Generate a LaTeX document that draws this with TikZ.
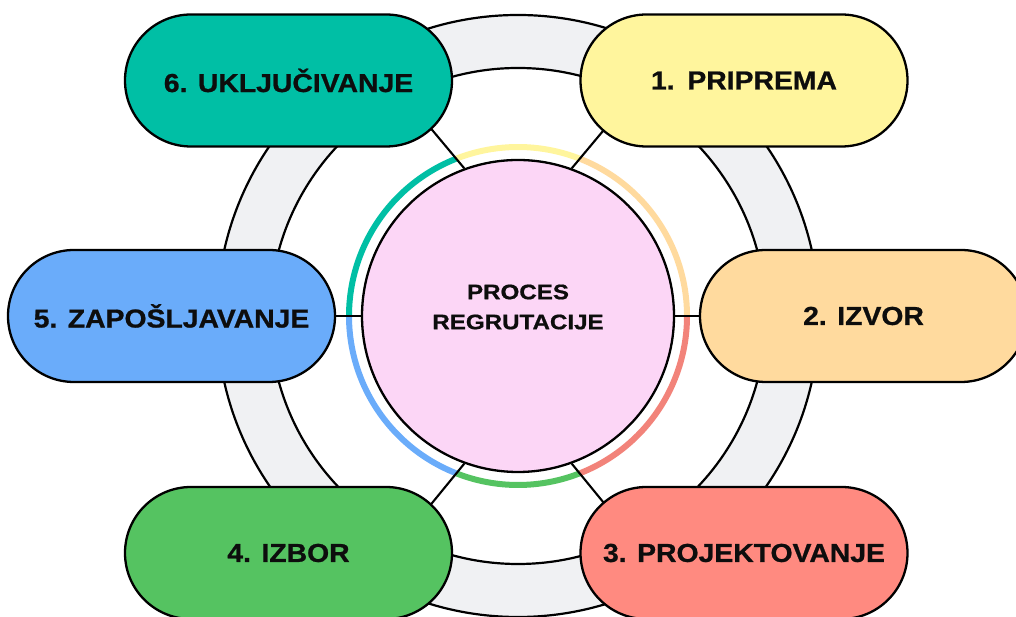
\documentclass[tikz,border=0pt]{standalone}
\usepackage{fontspec}
\setmainfont{Liberation Sans}[BoldFeatures={FakeBold=0.8}]
\usetikzlibrary{shapes.misc,backgrounds}
\definecolor{cteal}{HTML}{00BFA5}
\definecolor{cyellow}{HTML}{FFF59D}
\definecolor{corange}{HTML}{FFDA9E}
\definecolor{cred}{HTML}{FF8A80}
\definecolor{cgreen}{HTML}{55C361}
\definecolor{cblue}{HTML}{6AACFA}
\definecolor{cpink}{HTML}{FCD6F6}
\definecolor{cring}{HTML}{F0F1F3}
\definecolor{ctext}{HTML}{0D0D0D}
\newcommand\wx[1]{\scalebox{1.09}[1]{#1}}
\newcommand\wc[1]{\scalebox{1.15}[1]{#1}}
\tikzset{
  pill/.style={rounded rectangle, draw=black, line width=2.3pt,
    minimum width=327pt, minimum height=132pt, inner sep=0pt,
    font=\bfseries\fontsize{26}{30}\selectfont, text=ctext},
  ringband/.style={fill=cring, draw=black, line width=2.2pt, even odd rule},
  conn/.style={draw=black, line width=2.1pt},
  arcseg/.style={line width=6pt, line cap=butt},
  hub/.style={circle, draw=black, line width=2.3pt, fill=cpink,
    minimum size=312pt, inner sep=0pt}
}
\begin{document}
\begin{tikzpicture}[x=1pt,y=1pt]
\useasboundingbox (0,0) rectangle (1016,617);
% hub
\node[hub] (c) at (518,301) {};
\node[font=\bfseries\fontsize{21}{30}\selectfont, text=ctext, align=center] (t) at (518,310) {\wc{PROCES}\\\wc{REGRUTACIJE}};
% pills
\node[pill, fill=cteal]   (p6) at (288.5,536.5) {\wx{6. UKLJUČIVANJE}};
\node[pill, fill=cyellow] (p1) at (744,536.5) {\wx{1.\hspace{0.45em}PRIPREMA}};
\node[pill, fill=cblue]   (p5) at (171.5,301) {\wx{5. ZAPOŠLJAVANJE}};
\node[pill, fill=corange] (p2) at (863.5,301) {\wx{2. IZVOR}};
\node[pill, fill=cgreen]  (p4) at (288.5,64) {\wx{4. IZBOR}};
\node[pill, fill=cred]    (p3) at (744,64) {\wx{3. PROJEKTOVANJE}};
% connector ends inside pills
\coordinate (k6) at (428,492);
\coordinate (k1) at (608,492);
\coordinate (k5) at (330,301);
\coordinate (k2) at (706,301);
\coordinate (k4) at (428,109);
\coordinate (k3) at (608,109);
\begin{pgfonlayer}{background}
  \path[ringband] (c.center) circle[radius=301] (c.center) circle[radius=248];
  \draw[arcseg, cteal]   ([shift={(111.5:169)}]c.center) arc[start angle=111.5, end angle=180, radius=169];
  \draw[arcseg, cyellow] ([shift={(68.5:169)}]c.center) arc[start angle=68.5, end angle=111.5, radius=169];
  \draw[arcseg, corange] ([shift={(0:169)}]c.center) arc[start angle=0, end angle=68.5, radius=169];
  \draw[arcseg, cred!95!black]    ([shift={(-68.5:169)}]c.center) arc[start angle=-68.5, end angle=0, radius=169];
  \draw[arcseg, cgreen]  ([shift={(-111.5:169)}]c.center) arc[start angle=-111.5, end angle=-68.5, radius=169];
  \draw[arcseg, cblue]   ([shift={(-180:169)}]c.center) arc[start angle=-180, end angle=-111.5, radius=169];
  \draw[conn] (c.110) -- (k6);
  \draw[conn] (c.70) -- (k1);
  \draw[conn] (c.180) -- (k5);
  \draw[conn] (c.0) -- (k2);
  \draw[conn] (c.-110) -- (k4);
  \draw[conn] (c.-70) -- (k3);
\end{pgfonlayer}
\end{tikzpicture}
\end{document}
